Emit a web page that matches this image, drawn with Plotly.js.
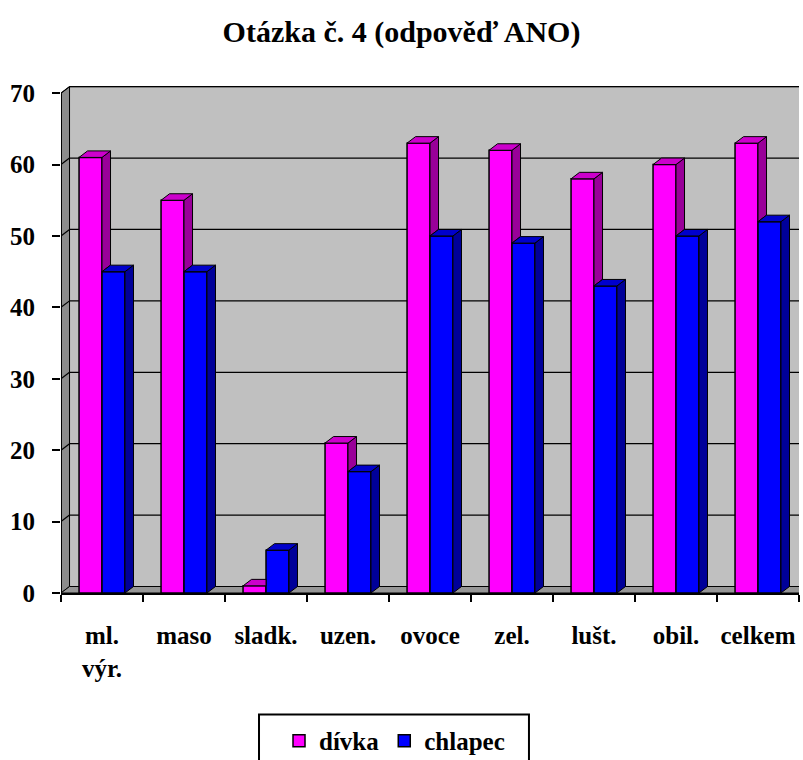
<!DOCTYPE html>
<html>
<head>
<meta charset="utf-8">
<script src="https://cdn.plot.ly/plotly-3.0.1.min.js"></script>
<style>html,body{margin:0;padding:0;background:#fff;}#chart{width:803px;height:760px;}</style>
</head>
<body>
<div id="chart"></div>
<script>
// ---- data ----
const categories = ['ml.<br>výr.', 'maso', 'sladk.', 'uzen.', 'ovoce', 'zel.', 'lušt.', 'obil.', 'celkem'];
const divka = [61, 55, 1, 21, 63, 62, 58, 60, 63];
const chlapec = [45, 45, 6, 17, 50, 49, 43, 50, 52];
const seriesNames = ['dívka', 'chlapec'];
const yTickVals = [0, 10, 20, 30, 40, 50, 60, 70];
const titleText = 'Otázka č. 4 (odpověď ANO)';

// ---- styling / geometry constants ----
const FONT = '"Liberation Serif", "Times New Roman", serif';
const BARGAP = 0.44;
const W = (1 - BARGAP) / 2;     // width of one bar in category units
const DX = 0.104;               // 3D depth, category units
const DY = 0.91;                // 3D depth, value units
const X0 = -0.5, X1 = categories.length - 0.5;
const Y_TOP = yTickVals[yTickVals.length - 1];

const pinkFront = '#FF00FF', pinkTop = '#CC00CC', pinkSide = '#990099';
const blueFront = '#0000FF', blueTop = '#0000CC', blueSide = '#000099';

function poly(xs, ys, px, py) {
  px.forEach((v, k) => { xs.push(v); ys.push(py[k]); });
  xs.push(px[0]); ys.push(py[0]);
  xs.push(null); ys.push(null);
}

const pTopX = [], pTopY = [], pSideX = [], pSideY = [];
const bTopX = [], bTopY = [], bSideX = [], bSideY = [];
categories.forEach((c, i) => {
  const p = divka[i], b = chlapec[i];
  const l = i - W, m = i, r = i + W;
  if (b > p) {
    poly(pTopX, pTopY, [l, m, m, l + DX], [p, p, p + DY, p + DY]);
  } else {
    poly(pTopX, pTopY, [l, m, m + DX, l + DX], [p, p, p + DY, p + DY]);
    poly(pSideX, pSideY, [m, m, m + DX, m + DX], [b, p, p + DY, b + DY]);
  }
  poly(bTopX, bTopY, [m, r, r + DX, m + DX], [b, b, b + DY, b + DY]);
  poly(bSideX, bSideY, [r, r, r + DX, r + DX], [0, b, b + DY, DY]);
});

function face(xs, ys, col) {
  return {
    type: 'scatter', mode: 'lines', x: xs, y: ys, xaxis: 'x2', yaxis: 'y',
    fill: 'toself', fillcolor: col, line: {color: '#000', width: 1},
    hoverinfo: 'skip', showlegend: false, connectgaps: false
  };
}

const traces = [
  {type: 'bar', name: seriesNames[0], x: categories, y: divka,
   marker: {color: pinkFront, line: {color: '#000', width: 1.5}}},
  {type: 'bar', name: seriesNames[1], x: categories, y: chlapec,
   marker: {color: blueFront, line: {color: '#000', width: 1.5}}},
  face(pSideX, pSideY, pinkSide),
  face(pTopX, pTopY, pinkTop),
  face(bSideX, bSideY, blueSide),
  face(bTopX, bTopY, blueTop)
];

// ---- decorative walls, floor and gridlines ----
const shapes = [];
shapes.push({type: 'rect', xref: 'x2', yref: 'y', layer: 'below',
  x0: X0 + DX, x1: X1 + 1, y0: DY, y1: Y_TOP + DY,
  fillcolor: '#C0C0C0', line: {color: '#000', width: 1}});
shapes.push({type: 'path', xref: 'x2', yref: 'y', layer: 'below',
  path: `M${X0},0 L${X0},${Y_TOP} L${X0 + DX},${Y_TOP + DY} L${X0 + DX},${DY} Z`,
  fillcolor: '#8C8C8C', line: {color: '#000', width: 1}});
shapes.push({type: 'path', xref: 'x2', yref: 'y', layer: 'below',
  path: `M${X0},0 L${X1},0 L${X1 + DX},${DY} L${X0 + DX},${DY} Z`,
  fillcolor: '#969696', line: {color: '#000', width: 1}});
yTickVals.slice(1).forEach(v => {
  shapes.push({type: 'line', xref: 'x2', yref: 'y', layer: 'below',
    x0: X0 + DX, x1: X1 + 1, y0: v + DY, y1: v + DY, line: {color: '#000', width: 1.2}});
  shapes.push({type: 'line', xref: 'x2', yref: 'y', layer: 'below',
    x0: X0, x1: X0 + DX, y0: v, y1: v + DY, line: {color: '#000', width: 1.2}});
});
shapes.push({type: 'line', xref: 'x2', yref: 'y', layer: 'above',
  x0: X0, x1: X0, y0: 0, y1: Y_TOP, line: {color: '#000', width: 2}});
// legend frame (paper coordinates)
shapes.push({type: 'rect', xref: 'paper', yref: 'paper',
  x0: 0.2683, x1: 0.6341, y0: -0.3675, y1: -0.2394,
  fillcolor: 'rgba(0,0,0,0)', line: {color: '#000', width: 2}});

const layout = {
  width: 803, height: 760,
  margin: {l: 61, r: 4, t: 86, b: 166.5},
  paper_bgcolor: '#fff', plot_bgcolor: '#fff',
  font: {family: FONT, color: '#000', size: 25, weight: 'bold'},
  title: {text: titleText, x: 0.5, xanchor: 'center', y: 0.959, yanchor: 'middle',
          font: {family: FONT, size: 30, color: '#000', weight: 'bold'}},
  barmode: 'group', bargap: BARGAP, bargroupgap: 0,
  showlegend: true,
  legend: {orientation: 'h', xref: 'paper', yref: 'container',
           x: 0.2954, xanchor: 'left', y: 0.0553, yanchor: 'top',
           bgcolor: 'rgba(0,0,0,0)', borderwidth: 0,
           font: {family: FONT, size: 25, color: '#000', weight: 'bold'}},
  xaxis: {type: 'category', range: [X0, X1], tickson: 'boundaries', tickangle: 0,
          ticks: 'outside', ticklen: 7, tickwidth: 2, tickcolor: '#000',
          showline: true, linecolor: '#000', linewidth: 2, showgrid: false,
          zeroline: false, ticklabelstandoff: 19, automargin: false,
          tickfont: {family: FONT, size: 25, color: '#000', weight: 'bold'}},
  xaxis2: {overlaying: 'x', range: [X0, X1], visible: false, showgrid: false, zeroline: false},
  yaxis: {range: [0, 71], tickvals: yTickVals, ticktext: yTickVals.map(String),
          ticks: 'outside', ticklen: 8, tickwidth: 2, tickcolor: '#000',
          showline: false, showgrid: false, zeroline: false, ticklabelstandoff: 12,
          automargin: false,
          tickfont: {family: FONT, size: 25, color: '#000', weight: 'bold'}},
  shapes: shapes
};

Plotly.newPlot('chart', traces, layout, {staticPlot: true, displayModeBar: false});
</script>
</body>
</html>
